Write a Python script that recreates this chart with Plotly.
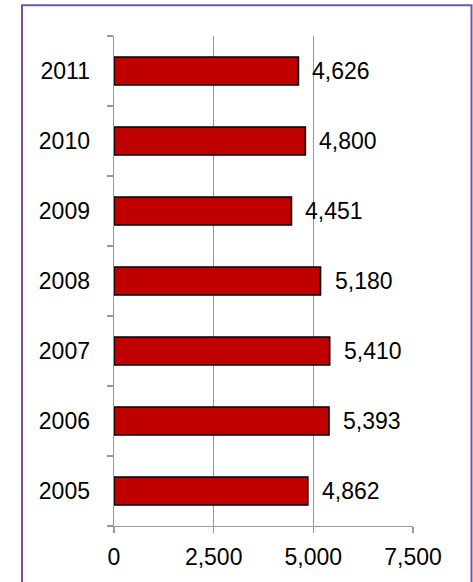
import plotly.graph_objects as go

years = ["2005", "2006", "2007", "2008", "2009", "2010", "2011"]
values = [4862, 5393, 5410, 5180, 4451, 4800, 4626]
x_ticks = [0, 2500, 5000, 7500]
x_tick_labels = ["0", "2,500", "5,000", "7,500"]

W, H = 473, 582
L, R, T, B = 114, 60, 36, 54
pw = W - L - R
ph = H - T - B

FONT = "Liberation Sans, Arial"

fig = go.Figure()
fig.add_trace(go.Bar(
    y=years, x=values, orientation="h",
    marker=dict(color="#c00000", line=dict(color="#000000", width=1.6)),
    hoverinfo="skip",
))

for i, v in enumerate(values):
    fig.add_annotation(x=v, y=i, text=f"{v:,}", showarrow=False,
                       xanchor="left", yanchor="middle", xshift=12,
                       font=dict(family=FONT, size=23, color="#000000"))

def px_x(p):
    return (p - L) / pw

def px_y(p):
    return (H - B - p) / ph

fig.add_shape(type="rect", xref="paper", yref="paper",
              x0=px_x(22), x1=px_x(471.5), y0=px_y(5), y1=px_y(600),
              line=dict(color="#7651ad", width=2), fillcolor="rgba(0,0,0,0)")

fig.update_layout(
    width=W, height=H,
    margin=dict(l=L, r=R, t=T, b=B),
    paper_bgcolor="white", plot_bgcolor="white",
    bargap=0.6, showlegend=False,
    font=dict(family=FONT, size=23, color="#000000"),
    xaxis=dict(range=[0, 7500], tickvals=x_ticks, ticktext=x_tick_labels,
               showgrid=True, gridcolor="#999999", gridwidth=1.4,
               showline=True, linecolor="#999999", linewidth=1.4,
               ticks="outside", ticklen=6, tickcolor="#999999", tickwidth=1.4,
               zeroline=False, ticklabelstandoff=4, fixedrange=True),
    yaxis=dict(type="category", categoryorder="array", categoryarray=years,
               range=[-0.5, len(years) - 0.5],
               showgrid=False, showline=True, linecolor="#999999", linewidth=1.4,
               ticks="outside", ticklen=6, tickcolor="#999999", tickwidth=1.4,
               tickson="boundaries", ticklabelstandoff=18, fixedrange=True),
)

fig.write_html("out.html",
               config={"displayModeBar": False, "staticPlot": True},
               post_script="document.body.style.margin='0';document.body.style.overflow='hidden';")
